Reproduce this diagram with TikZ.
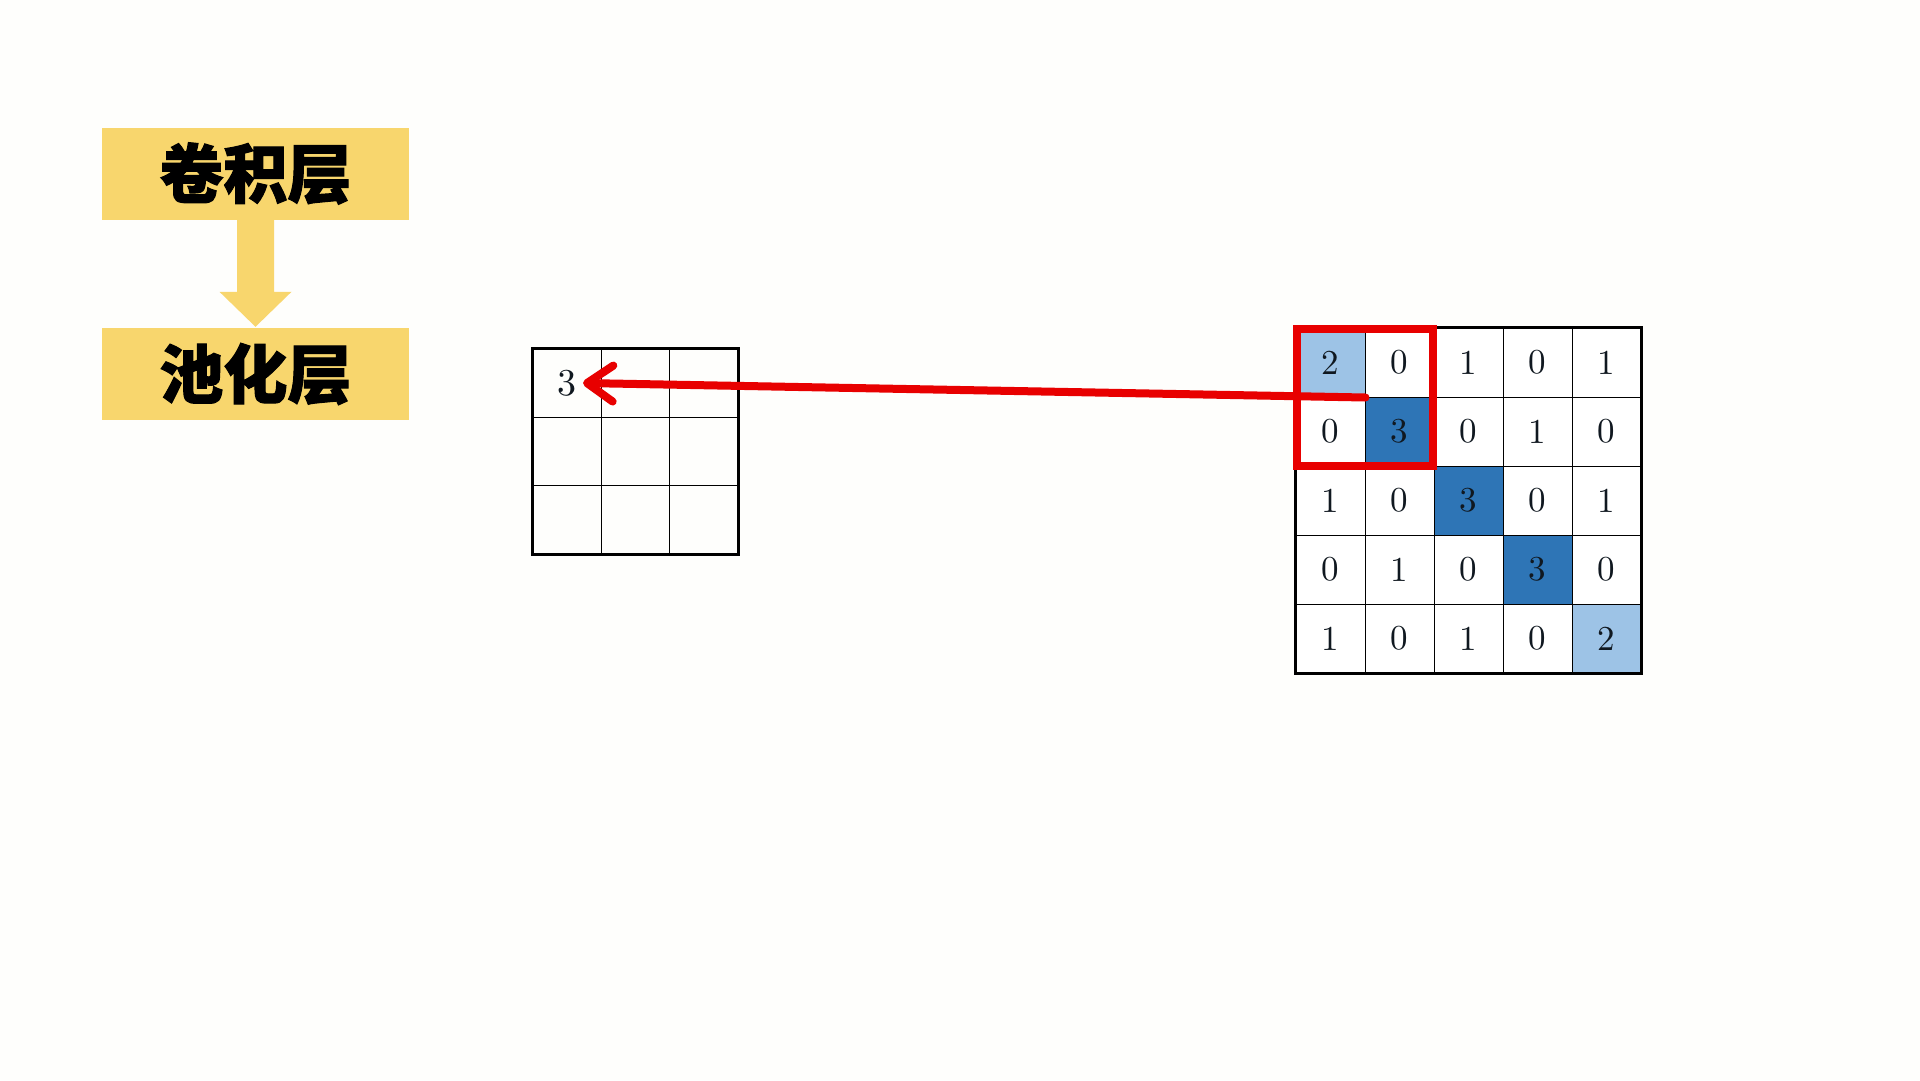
\documentclass[tikz,border=0pt]{standalone}
\usepackage{fontspec}
\newfontfamily\cjk{Noto Sans CJK SC}[BoldFeatures={FakeBold=1.6}]
\newfontfamily\numfont{lmroman10-regular.otf}
\usetikzlibrary{arrows.meta,calc}
\definecolor{bgc}{HTML}{FEFEFC}
\definecolor{yel}{HTML}{F8D66D}
\definecolor{lblue}{HTML}{9DC3E6}
\definecolor{dblue}{HTML}{2E75B6}
\definecolor{redc}{HTML}{E80000}
\definecolor{digit}{HTML}{101820}
\tikzset{
  layerbox/.style={fill=yel, minimum width=307pt, minimum height=92pt, inner sep=0pt,
    font=\cjk\bfseries\fontsize{64}{64}\selectfont},
  bigcell/.style={draw=black, line width=1pt, minimum size=69pt, inner sep=0pt,
    text=digit, font=\numfont\fontsize{35}{35}\selectfont},
  smallcell/.style={draw=black, line width=1pt, minimum size=68.33pt, inner sep=0pt},
  gridframe/.style={draw=black, line width=3.5pt},
  redline/.style={draw=redc, line width=8pt},
}
\begin{document}
\begin{tikzpicture}[x=1pt,y=-1pt]
\useasboundingbox[fill=bgc] (0,0) rectangle (1920,1080);
% layer boxes
\node[layerbox] (c1) at (255.5,173.5) {卷积层};
\node[layerbox] (c2) at (255.5,374) {池化层};
\fill[yel] ([xshift=-18.5pt]c1.south) -- ([xshift=18.5pt]c1.south)
  -- ([xshift=18.5pt,yshift=36pt]c2.north) -- ([xshift=36pt,yshift=36pt]c2.north)
  -- ([yshift=1pt]c2.north) -- ([xshift=-36pt,yshift=36pt]c2.north)
  -- ([xshift=-18.5pt,yshift=36pt]c2.north) -- cycle;
% small 3x3 grid
\foreach \r in {1,2,3}{
  \foreach \c in {1,2,3}{
    \node[smallcell] (s\r\c) at ({533+68.33*(\c-0.5)},{349+68.33*(\r-0.5)}) {};
  }
}
\node[inner sep=0pt, text=digit, font=\numfont\fontsize{38}{38}\selectfont] (s3t) at (s11) {3};
\draw[gridframe] (s11.north west) rectangle (s33.south east);
% big 5x5 grid
\foreach \r/\row in {1/{2,0,1,0,1},2/{0,3,0,1,0},3/{1,0,3,0,1},4/{0,1,0,3,0},5/{1,0,1,0,2}}{
  \foreach \v [count=\c] in \row {
    \ifnum\v=3 \def\fc{dblue}\else\ifnum\v=2 \def\fc{lblue}\else\def\fc{white}\fi\fi
    \node[bigcell, fill=\fc] (b\r\c) at ({1296+69*(\c-0.5)},{328+69*(\r-0.5)}) {\v};
  }
}
\draw[gridframe] (b11.north west) rectangle (b55.south east);
% red window
\draw[redline] ([shift={(1.5pt,-1pt)}]b11.north west) rectangle ([shift={(-2pt,1pt)}]b22.south east);
% red arrow
\coordinate (rstart) at (b11.south east);
\coordinate (rtip) at (583,383);
\draw[redc, line width=8pt, line cap=round,
  -{Straight Barb[length=26pt, width=36pt, round]}] (rstart) -- (rtip);
\end{tikzpicture}
\end{document}
